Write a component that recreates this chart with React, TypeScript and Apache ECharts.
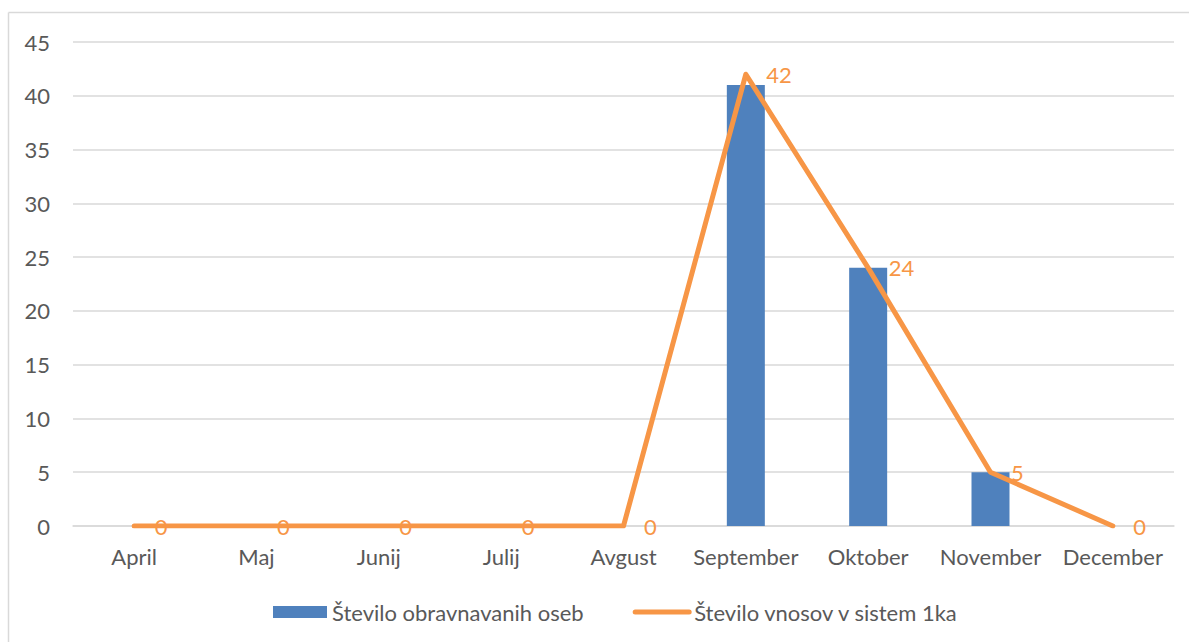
import React, { useEffect, useRef } from "react";
import * as echarts from "echarts";

const categories = ["April", "Maj", "Junij", "Julij", "Avgust", "September", "Oktober", "November", "December"];
const obravnavaneOsebe = [0, 0, 0, 0, 0, 41, 24, 5, 0];
const vnosi1ka = [0, 0, 0, 0, 0, 42, 24, 5, 0];
const yTicks = { min: 0, max: 45, interval: 5 };

const FONT = "Lato";
const FS = 22;
const TEXT = "#595959";
const BLUE = "#4F81BD";
const ORANGE = "#F79646";

export default function App() {
  const ref = useRef<HTMLDivElement>(null);
  useEffect(() => {
    const chart = echarts.init(ref.current!, undefined, { renderer: "svg" });
    chart.setOption({
      animation: false,
      textStyle: { fontFamily: FONT },
      graphic: [
        { type: "line", shape: { x1: 8.5, y1: 12.5, x2: 1189, y2: 12.5 }, style: { stroke: "#D9D9D9", lineWidth: 1.5 } },
        { type: "line", shape: { x1: 8.5, y1: 12.5, x2: 8.5, y2: 642 }, style: { stroke: "#D9D9D9", lineWidth: 1.5 } },
      ],
      grid: { left: 73, right: 15, top: 42, bottom: 116, containLabel: false },
      legend: {
        top: 596,
        left: 268,
        itemGap: 49,
        itemWidth: 54,
        itemHeight: 12,
        textStyle: { color: TEXT, fontSize: FS, fontFamily: FONT },
        data: [
          { name: "Število obravnavanih oseb", icon: "rect" },
          {
            name: "Število vnosov v sistem 1ka",
            itemStyle: { opacity: 0 },
            lineStyle: { width: 5, cap: "round", color: ORANGE },
          },
        ],
      },
      xAxis: {
        type: "category",
        data: categories,
        axisLine: { show: true, lineStyle: { color: "#D9D9D9", width: 1.5 } },
        axisTick: { show: false },
        axisLabel: { color: TEXT, fontSize: FS, margin: 19, fontFamily: FONT, interval: 0 },
      },
      yAxis: {
        type: "value",
        min: yTicks.min,
        max: yTicks.max,
        interval: yTicks.interval,
        axisLine: { show: false },
        axisTick: { show: false },
        axisLabel: { color: TEXT, fontSize: FS, margin: 23, fontFamily: FONT },
        splitLine: { lineStyle: { color: "#D9D9D9", width: 1.5 } },
      },
      series: [
        {
          name: "Število obravnavanih oseb",
          type: "bar",
          data: obravnavaneOsebe,
          barWidth: 38,
          itemStyle: { color: BLUE },
        },
        {
          name: "Število vnosov v sistem 1ka",
          type: "line",
          data: vnosi1ka,
          symbol: "none",
          z: 5,
          lineStyle: { color: ORANGE, width: 5, cap: "round", join: "round" },
          itemStyle: { color: ORANGE },
        },
        {
          name: "labels",
          type: "scatter",
          data: vnosi1ka,
          symbolSize: 1,
          z: 6,
          silent: true,
          itemStyle: { color: "rgba(0,0,0,0)", opacity: 1 },
          label: {
            show: true,
            position: "right",
            distance: 20,
            color: ORANGE,
            fontSize: FS,
            fontFamily: FONT,
          },
        },
      ],
    });
    return () => chart.dispose();
  }, []);
  return (
    <div
      ref={ref}
      style={{ position: "absolute", left: 0, top: 0, width: 1189, height: 642, background: "#fff" }}
    />
  );
}
